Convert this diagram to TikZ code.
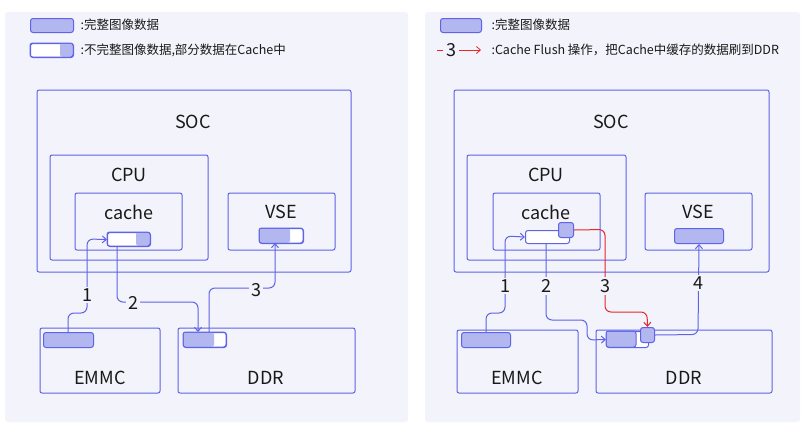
\documentclass[tikz,border=0pt]{standalone}
\usepackage{fontspec}
\setmainfont{Noto Sans CJK SC}
\usetikzlibrary{positioning,arrows.meta}
\definecolor{panelbg}{HTML}{F3F3FB}
\definecolor{edge}{HTML}{5F63E6}
\definecolor{datafill}{HTML}{B3B7F0}
\definecolor{flushred}{HTML}{E8262A}
\tikzset{
  unit/.style={draw=edge, line width=1pt, rounded corners=2pt},
  big/.style={font=\fontsize{18}{20}\selectfont, text=black!90},
  data/.style={draw=edge, line width=1pt, fill=datafill, rounded corners=2.5pt, inner sep=0pt, anchor=north west},
  hole/.style={draw=edge, line width=1pt, fill=white, rounded corners=2.5pt, inner sep=0pt, anchor=north west},
  flow/.style={draw=edge, line width=1pt, rounded corners=6pt, -{Straight Barb[length=4pt,width=7pt]}},
  stepnum/.style={fill=panelbg, font=\fontsize{18}{20}\selectfont, text=black!90, inner sep=2pt},
  legend/.style={font=\fontsize{12.5}{14}\selectfont, anchor=west, text=black!90}
}
\begin{document}
\begin{tikzpicture}[x=1pt,y=-1pt]
  \useasboundingbox[fill=white] (0,0) rectangle (805,434);
  % two panels
  \fill[panelbg, rounded corners=3pt] (5,12) rectangle (408,422);
  \fill[panelbg, rounded corners=3pt] (425,12) rectangle (800,422);

  % ---------- left panel ----------
  \node[data, minimum width=43pt, minimum height=14pt] (lgA) at (30,18) {};
  \node[legend] at (77,25) {:完整图像数据};
  \node[hole, minimum width=43pt, minimum height=14pt] (lgB) at (30,43) {};
  \fill[datafill, rounded corners=2pt] (60,43.5) rectangle (72.5,56.5);
  \draw[unit, rounded corners=2.5pt] (30,43) rectangle (73,57);
  \node[legend] at (77,50) {:不完整图像数据,部分数据在Cache中};

  \draw[unit] (37,90) rectangle (351,272);
  \node[big] (socL) at (193,122) {SOC};
  \draw[unit] (50,155) rectangle (208,260);
  \node[big] (cpuL) at (129,175) {CPU};
  \draw[unit] (75,193) rectangle (182,250);
  \node[big] (cacheL) at (129,212) {cache};
  \draw[unit] (228,193) rectangle (335,250);
  \node[big] (vseL) at (281,212) {VSE};
  \draw[unit] (40,328) rectangle (160,393);
  \node[big] (emmcL) at (100,378) {EMMC};
  \draw[unit] (178,328) rectangle (355,393);
  \node[big] (ddrL) at (266,378) {DDR};

  \node[hole, minimum width=43pt, minimum height=14pt] (cdL) at (107,232) {};
  \fill[datafill, rounded corners=2pt] (136,232.5) rectangle (149.5,245.5);
  \draw[unit, rounded corners=2.5pt] (107,232) rectangle (150,246);
  \node[hole, minimum width=44pt, minimum height=15pt] (vdL) at (259,228) {};
  \fill[datafill, rounded corners=2pt] (259.5,228.5) rectangle (290,242.5);
  \draw[unit, rounded corners=2.5pt] (259,228) rectangle (303,243);
  \node[data, minimum width=50pt, minimum height=15pt] (edL) at (43,332) {};
  \node[hole, minimum width=43pt, minimum height=15pt] (ddL) at (183,332) {};
  \fill[datafill, rounded corners=2pt] (183.5,332.5) rectangle (214,346.5);
  \draw[unit, rounded corners=2.5pt] (183,332) rectangle (226,347);

  \draw[flow] (68,332) -- (68,313) -- (87,313) -- (87,239) -- (cdL.west);
  \node[stepnum] at (87,295) {1};
  \draw[flow] (117,246) -- (117,302) -- (198,302) -- (198,332);
  \node[stepnum] at (133,303) {2};
  \draw[flow] (209,332) -- (209,288) -- (275,288) -- (275,243);
  \node[stepnum] at (256,290) {3};

  % ---------- right panel ----------
  \node[data, minimum width=41pt, minimum height=14pt] (lgC) at (440,18) {};
  \node[legend] at (488,25) {:完整图像数据};
  \node[text=black!90, font=\fontsize{18}{20}\selectfont] (lgD) at (451,50) {3};
  \draw[flushred, line width=0.8pt] (437,50) -- (443,50);
  \draw[flushred, line width=0.8pt, -{Straight Barb[length=4pt,width=7pt]}] (459,50) -- (481,50);
  \node[legend] at (488,50) {:Cache Flush 操作，把Cache中缓存的数据刷到DDR};

  \draw[unit] (454,90) rectangle (769,272);
  \node[big] (socR) at (611,122) {SOC};
  \draw[unit] (467,155) rectangle (626,260);
  \node[big] (cpuR) at (546,175) {CPU};
  \draw[unit] (493,193) rectangle (600,250);
  \node[big] (cacheR) at (546,212) {cache};
  \draw[unit] (645,193) rectangle (752,250);
  \node[big] (vseR) at (698,212) {VSE};
  \draw[unit] (457,330) rectangle (578,393);
  \node[big] (emmcR) at (517,378) {EMMC};
  \draw[unit] (596,330) rectangle (772,393);
  \node[big] (ddrR) at (684,378) {DDR};

  \node[hole, minimum width=44pt, minimum height=13pt] (cdR) at (525,230) {};
  \node[data, minimum width=15pt, minimum height=15pt] (sqA) at (558,222) {};
  \node[data, minimum width=49pt, minimum height=15pt] (vdR) at (674,228) {};
  \node[data, minimum width=49pt, minimum height=15pt] (edR) at (461,332) {};
  \node[hole, minimum width=42pt, minimum height=16pt] (ddR) at (606,331) {};
  \fill[datafill, rounded corners=2pt] (606.5,331.5) rectangle (636,346.5);
  \draw[unit, rounded corners=2.5pt] (606,331) rectangle (636,347);
  \node[data, minimum width=14pt, minimum height=15pt] (sqB) at (640,327) {};

  \draw[flow] (486,332) -- (486,313) -- (505,313) -- (505,236) -- (cdR.west);
  \node[stepnum] at (505,286) {1};
  \draw[flow] (546,243) -- (546,320) -- (587,320) -- (587,340) -- (ddR.west);
  \node[stepnum] at (546,286) {2};
  \draw[flow, draw=flushred] (sqA.east) -- (605,229.5) -- (605,312) -- (647,312) -- (sqB.north);
  \node[stepnum] at (605,286) {3};
  \draw[flow] (sqB.east) -- (698,334.5) -- (vdR.south);
  \node[stepnum] at (698,283) {4};
\end{tikzpicture}
\end{document}
